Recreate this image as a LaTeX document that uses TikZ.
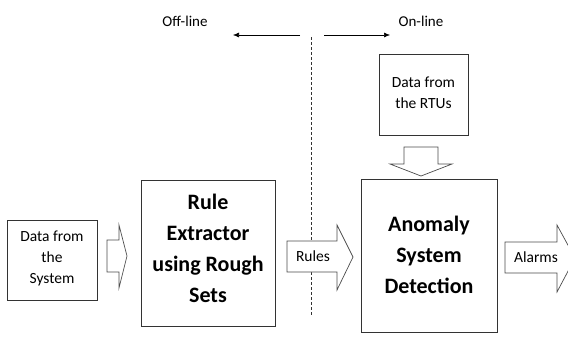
\documentclass[tikz,border=0pt]{standalone}
\usepackage{fontspec}
\setmainfont{Carlito}
\usetikzlibrary{arrows.meta}
\begin{document}
\begin{tikzpicture}[x=1pt,y=-1pt,
  box/.style={draw=black!80, line width=0.8pt},
  blockarrow/.style={draw=black!70, line width=0.7pt, fill=white},
  small/.style={font=\fontsize{15.5}{21}\selectfont, align=center},
  big/.style={font=\fontsize{22}{31}\selectfont\bfseries, align=center},
  phase/.style={font=\fontsize{15}{18}\selectfont},
  dir/.style={-{Latex[length=6pt,width=5pt]}, line width=0.6pt}]
\useasboundingbox (0,0) rectangle (568,341);
\clip (0,0) rectangle (568,341);

% Off-line / On-line separation
\coordinate (dtop) at (311,37);
\coordinate (dbot) at (311,315);
\draw[dash pattern=on 3pt off 2pt, line width=0.7pt, black!80] (dtop) -- (dbot);
\node[phase] (off) at (185,21) {Off-line};
\node[phase] (on) at (421,21) {On-line};
\coordinate (la) at (300,35);
\coordinate (lb) at (233,35);
\coordinate (ra) at (324,35);
\coordinate (rb) at (390,35);
\draw[dir] (la) -- (lb);
\draw[dir] (ra) -- (rb);

% Boxes
\draw[box] (7,220) rectangle (97,300);
\node[small] (sys) at (52,258) {Data from\\the\\System};

\draw[box] (141,180) rectangle (275,326);
\node[big] (rex) at (208,248) {Rule\\Extractor\\using Rough\\Sets};

\draw[box] (361,179) rectangle (497,332);
\node[big] (ads) at (429,255) {Anomaly\\System\\Detection};

\draw[box] (379,54) rectangle (468,135);
\node[small] (rtu) at (423.5,93) {Data from\\the RTUs};

% Block arrows
\draw[blockarrow] (107,240) -- (119,240) -- (119,225) -- (127,256) -- (119,288) -- (119,272) -- (107,272) -- cycle;

\draw[blockarrow] (287,241) -- (337,241) -- (337,225) -- (353,257) -- (337,290) -- (337,272) -- (287,272) -- cycle;
\node[small] (rules) at (313,256) {Rules};

\draw[blockarrow] (505,242) -- (557,242) -- (557,225) -- (575,258) -- (557,292) -- (557,273) -- (505,273) -- cycle;
\node[small] (alarms) at (536,257) {Alarms};

\draw[blockarrow] (404,147) -- (438,147) -- (438,164) -- (452,164) -- (421,176) -- (390,164) -- (404,164) -- cycle;
\end{tikzpicture}
\end{document}
